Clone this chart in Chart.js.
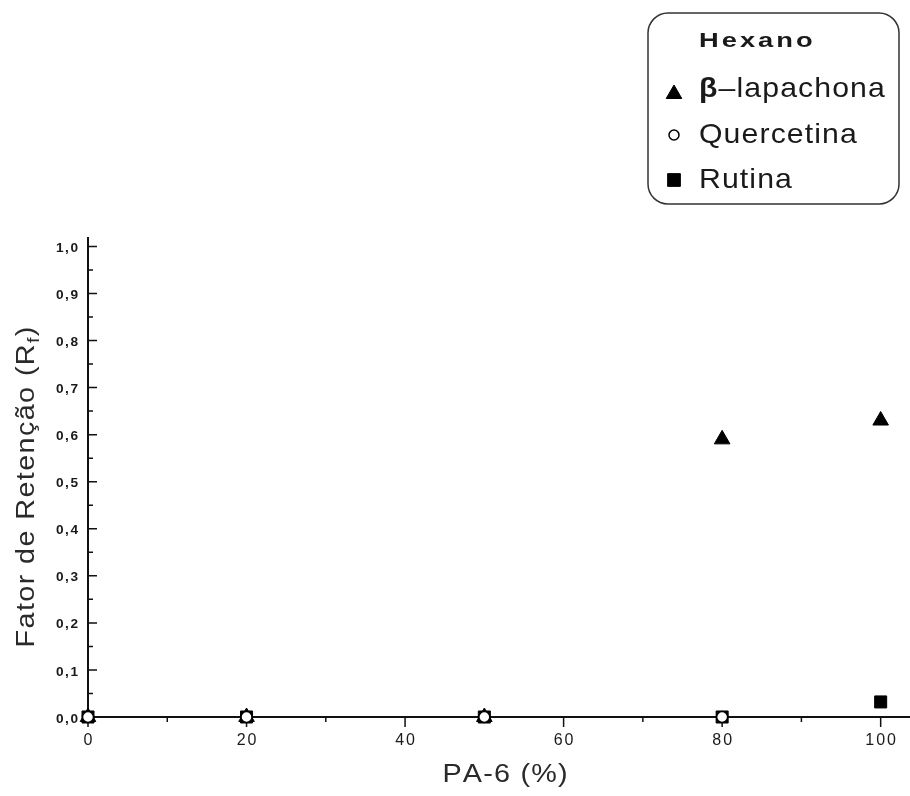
<!DOCTYPE html>
<html>
<head>
<meta charset="utf-8">
<script src="https://cdn.jsdelivr.net/npm/chart.js@4/dist/chart.umd.min.js"></script>
<style>
  html, body { margin: 0; padding: 0; background: #fff; overflow: hidden; }
  #wrap { width: 910px; height: 796px; position: relative; }
</style>
</head>
<body>
<div id="wrap"><canvas id="chart" width="910" height="796"></canvas></div>
<script>
// data
const xValues = [0, 20, 50, 80, 100];
const lapachona = [0, 0, 0, 0.59, 0.63];
const quercetinaX = [0, 20, 50, 80];
const quercetina = [0, 0, 0, 0];
const rutina = [0, 0, 0, 0, 0.032];

const xMajorTicks = [0, 20, 40, 60, 80, 100];
const xMinorTicks = [10, 30, 50, 70, 90];
const yMajorTicks = [0, 0.1, 0.2, 0.3, 0.4, 0.5, 0.6, 0.7, 0.8, 0.9, 1.0];
const yMinorTicks = [0.05, 0.15, 0.25, 0.35, 0.45, 0.55, 0.65, 0.75, 0.85, 0.95];

const legendTitle = 'Hexano';
const xTitle = 'PA-6 (%)';
const yTitle = 'Fator de Retenção (R';
const yTitleSub = 'f';

const FONT = '"Liberation Sans", Arial, sans-serif';
const INK = '#1a1a1a';

function pts(xs, ys) {
    return xs.map((x, i) => ({ x: x, y: ys[i] }));
}

// draws runs of text, letters stretched by sx and spaced apart, returns width
function spacedRuns(ctx, runs, x, y, spacing, align, sx) {
    sx = sx || 1;
    let total = 0;
    const items = [];
    runs.forEach(r => {
        ctx.font = r.font;
        [...r.text].forEach(ch => {
            const w = ctx.measureText(ch).width * sx;
            items.push({ ch, w, font: r.font, dy: r.dy || 0 });
            total += w;
        });
    });
    total += spacing * (items.length - 1);
    let cx = align === 'center' ? x - total / 2 : align === 'right' ? x - total : x;
    ctx.textAlign = 'left';
    items.forEach(it => {
        ctx.font = it.font;
        ctx.save();
        ctx.translate(cx, y + it.dy);
        ctx.scale(sx, 1);
        ctx.fillText(it.ch, 0, 0);
        ctx.restore();
        cx += it.w + spacing;
    });
    return total;
}

function fmtY(v) {
    return v.toFixed(1).replace('.', ',');
}

const axesPlugin = {
    id: 'originAxes',
    beforeDatasetsDraw(chart) {
        const ctx = chart.ctx;
        const xs = chart.scales.x, ys = chart.scales.y;
        const area = chart.chartArea;
        const x0 = xs.getPixelForValue(0);
        const y0 = ys.getPixelForValue(0);
        ctx.save();
        ctx.strokeStyle = '#111';
        ctx.lineWidth = 2;
        ctx.beginPath();
        ctx.moveTo(x0, area.top);
        ctx.lineTo(x0, y0);
        ctx.moveTo(x0, y0);
        ctx.lineTo(area.right, y0);
        ctx.stroke();

        ctx.lineWidth = 1.5;
        ctx.beginPath();
        xMajorTicks.forEach(v => { const p = xs.getPixelForValue(v); ctx.moveTo(p, y0); ctx.lineTo(p, y0 + 10); });
        xMinorTicks.forEach(v => { const p = xs.getPixelForValue(v); ctx.moveTo(p, y0); ctx.lineTo(p, y0 + 5); });
        yMajorTicks.forEach(v => { const p = ys.getPixelForValue(v); ctx.moveTo(x0, p); ctx.lineTo(x0 + 9, p); });
        yMinorTicks.forEach(v => { const p = ys.getPixelForValue(v); ctx.moveTo(x0, p); ctx.lineTo(x0 + 5, p); });
        ctx.stroke();

        ctx.fillStyle = INK;
        ctx.textBaseline = 'middle';
        xMajorTicks.forEach(v => {
            spacedRuns(ctx, [{ text: String(v), font: '16px ' + FONT }], xs.getPixelForValue(v), y0 + 24, 2, 'center');
        });
        yMajorTicks.forEach(v => {
            spacedRuns(ctx, [{ text: fmtY(v), font: 'bold 13px ' + FONT }], x0 - 10, ys.getPixelForValue(v) + 2, 1.5, 'right', 1.05);
        });

        // axis titles
        ctx.fillStyle = '#2a2a2a';
        ctx.textBaseline = 'alphabetic';
        spacedRuns(ctx, [{ text: xTitle, font: '25px ' + FONT }], 505, y0 + 65, 1.2, 'center', 1.15);

        ctx.save();
        ctx.translate(34, (area.top + y0) / 2 + 10);
        ctx.rotate(-Math.PI / 2);
        spacedRuns(ctx, [
            { text: yTitle, font: '25px ' + FONT },
            { text: yTitleSub, font: '17px ' + FONT, dy: 5 },
            { text: ')', font: '25px ' + FONT }
        ], 0, 0, 1.4, 'center', 1.15);
        ctx.restore();
        ctx.restore();
    },
    afterDraw(chart) {
        const ctx = chart.ctx;
        ctx.save();
        // rounded legend box
        const bx = 648, by = 13, bw = 251, bh = 191, rad = 20;
        ctx.strokeStyle = '#333';
        ctx.lineWidth = 1.5;
        ctx.beginPath();
        ctx.roundRect(bx, by, bw, bh, rad);
        ctx.stroke();

        ctx.fillStyle = INK;
        ctx.textBaseline = 'alphabetic';
        spacedRuns(ctx, [{ text: legendTitle, font: 'bold 21px ' + FONT }], 699, 47, 3, 'left', 1.3);

        const baselines = [97, 143, 188];
        chart.data.datasets.forEach((ds, i) => {
            const base = baselines[i];
            const my = ds.pointStyle === 'triangle' ? base - 3 : base - 8;
            ctx.fillStyle = ds.pointBackgroundColor;
            ctx.strokeStyle = ds.pointBorderColor;
            ctx.lineWidth = ds.pointBorderWidth;
            Chart.helpers.drawPoint(ctx, {
                pointStyle: ds.pointStyle,
                radius: ds.pointStyle === 'circle' ? 5 : 9,
                borderWidth: ds.pointBorderWidth,
                rotation: 0
            }, 674, my);
            ctx.fillStyle = INK;
            const label = ds.label;
            const runs = label.startsWith('β')
                ? [{ text: 'β', font: 'bold 28px ' + FONT }, { text: label.slice(1), font: '28px ' + FONT }]
                : [{ text: label, font: '28px ' + FONT }];
            spacedRuns(ctx, runs, 699, base, 1.1, 'left', 1.08);
        });
        ctx.restore();
    }
};

new Chart(document.getElementById('chart'), {
    type: 'scatter',
    data: {
        datasets: [
            {
                label: 'β–lapachona',
                data: pts(xValues, lapachona),
                pointStyle: 'triangle',
                pointRadius: 9,
                pointBackgroundColor: '#000',
                pointBorderColor: '#000',
                pointBorderWidth: 1,
                order: 1,
                clip: false
            },
            {
                label: 'Quercetina',
                data: pts(quercetinaX, quercetina),
                pointStyle: 'circle',
                pointRadius: 5.5,
                pointBackgroundColor: '#fff',
                pointBorderColor: '#000',
                pointBorderWidth: 1.5,
                order: 0,
                clip: false
            },
            {
                label: 'Rutina',
                data: pts(xValues, rutina),
                pointStyle: 'rect',
                pointRadius: 8.5,
                pointBackgroundColor: '#000',
                pointBorderColor: '#000',
                pointBorderWidth: 1,
                order: 2,
                clip: false
            }
        ]
    },
    options: {
        responsive: false,
        animation: false,
        layout: { autoPadding: false, padding: { left: 88, right: 0, top: 237, bottom: 79 } },
        plugins: {
            legend: { display: false },
            tooltip: { enabled: false }
        },
        scales: {
            x: { type: 'linear', min: 0, max: 103.7, display: false },
            y: { type: 'linear', min: 0, max: 1.02, display: false }
        }
    },
    plugins: [axesPlugin]
});
</script>
</body>
</html>
